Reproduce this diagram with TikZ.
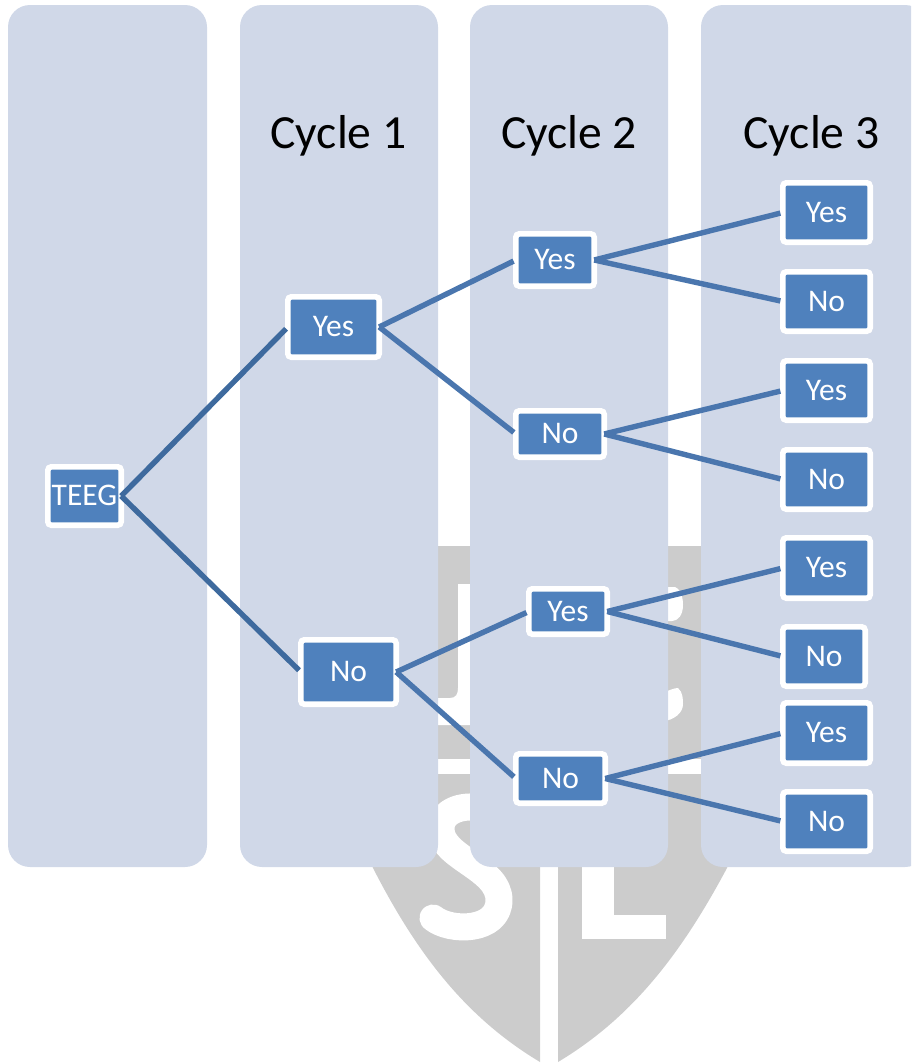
\documentclass[tikz,border=0pt]{standalone}
\usepackage{fontspec}
\setmainfont{Carlito}
\tikzset{
  colbox/.style={fill=colband,draw=none,rounded corners=22pt},
  treebox/.style={fill=nodeblue,draw=white,line width=5.6pt,rounded corners=3.5pt,inner sep=0pt,outer sep=0pt,
    text=white,font=\fontsize{31.5}{33}\selectfont,text height=19.5pt,text depth=0pt,align=center},
  toplink/.style={draw=linkdark,line width=5.4pt,shorten >=2.5pt},
  sublink/.style={draw=linkblue,line width=5.4pt,shorten >=2.5pt},
  headtext/.style={text=black,font=\fontsize{47.6}{50}\selectfont,inner sep=0pt,anchor=base},
  mark stroke/.style={draw=white,line width=27pt,line join=round,line cap=round}
}
\definecolor{colband}{HTML}{D0D8E8}
\definecolor{nodeblue}{HTML}{4F81BD}
\definecolor{linkblue}{HTML}{4A76AE}
\definecolor{linkdark}{HTML}{3E6A9E}
\definecolor{shieldgrey}{HTML}{CCCCCC}
\newcommand{\tbox}[6]{% name, x0, x1, y0, y1, text
  \node[treebox,minimum width=#3pt-#2pt-5.6pt,minimum height=#5pt-#4pt-5.6pt] (#1) at ({(#2+#3)/2},{(#4+#5)/2}) {#6};}
\begin{document}
\begin{tikzpicture}[x=1pt,y=-1pt]
\useasboundingbox (0,0) rectangle (911,1063);
\clip (0,0) rectangle (911,1063);
% watermark shield
\fill[shieldgrey] (340,546) -- (540,546) -- (540,1062)
  .. controls (470,1020) and (420,960) .. (373,868) -- (340,790) -- cycle;
\fill[shieldgrey] (760,546) -- (558,546) -- (558,1062)
  .. controls (628,1020) and (678,960) .. (727,868) -- (760,790) -- cycle;
\fill[white] (330,759) rectangle (770,774);
% watermark letters
\fill[white] (458,584) -- (480,584) -- (480,725) -- (430,725) -- (430,698) -- (450,698)
  .. controls (456,698) and (458,694) .. (458,688) -- cycle;
\fill[white] (660,587) -- (675,587) .. controls (682,590) and (683,600) .. (683,605)
  .. controls (683,615) and (678,621) .. (672,621) -- (660,621) -- cycle;
\fill[white] (660,695) .. controls (668,690) and (675,688) .. (678,688)
  .. controls (683,692) and (683,700) .. (683,704)
  .. controls (683,712) and (676,720) .. (660,722) -- cycle;
\draw[mark stroke] (490,810) .. controls (465,802) and (440,810) .. (441,830)
  .. controls (442,858) and (499,868) .. (499,900)
  .. controls (499,932) and (450,932) .. (433,918);
\fill[white] (582,850) rectangle (614,939);
\fill[white] (582,915) rectangle (666,939);
% columns
\fill[colbox] (8,5) rectangle (207,867);
\fill[colbox] (240,5) rectangle (438,867);
\fill[colbox] (470,5) rectangle (668,867);
\fill[colbox] (701,5) rectangle (927,867);
% headings
\node[headtext] (c1) at (338.5,148) {Cycle 1};
\node[headtext] (c2) at (569,148) {Cycle 2};
\node[headtext] (c3) at (811.5,148) {Cycle 3};
% tree nodes
\tbox{root}{45}{124}{464}{528}{TEEG}
\tbox{a}{285}{382}{294}{360}{Yes}
\tbox{b}{298}{399}{637}{707}{No}
\tbox{aa}{513}{597}{231}{289}{Yes}
\tbox{ab}{513}{607}{408}{460}{No}
\tbox{ba}{526}{610}{586}{637}{Yes}
\tbox{bb}{513}{608}{751}{806}{No}
\tbox{aaa}{780}{873}{180}{245}{Yes}
\tbox{aab}{780}{873}{269}{334}{No}
\tbox{aba}{780}{873}{358}{423}{Yes}
\tbox{abb}{780}{873}{447}{512}{No}
\tbox{baa}{780}{873}{535}{601}{Yes}
\tbox{bab}{780}{868}{624}{689}{No}
\tbox{bba}{780}{873}{700}{766}{Yes}
\tbox{bbb}{780}{873}{789}{854}{No}
% connectors
\draw[toplink] (root.east) -- (a.west);
\draw[toplink] (root.east) -- (b.west);
\draw[sublink] (a.east) -- (aa.west);
\draw[sublink] (a.east) -- (ab.west);
\draw[sublink] (b.east) -- (ba.west);
\draw[sublink] (b.east) -- (bb.west);
\draw[sublink] (aa.east) -- (aaa.west);
\draw[sublink] (aa.east) -- (aab.west);
\draw[sublink] (ab.east) -- (aba.west);
\draw[sublink] (ab.east) -- (abb.west);
\draw[sublink] (ba.east) -- (baa.west);
\draw[sublink] (ba.east) -- (bab.west);
\draw[sublink] (bb.east) -- (bba.west);
\draw[sublink] (bb.east) -- (bbb.west);
\end{tikzpicture}
\end{document}
